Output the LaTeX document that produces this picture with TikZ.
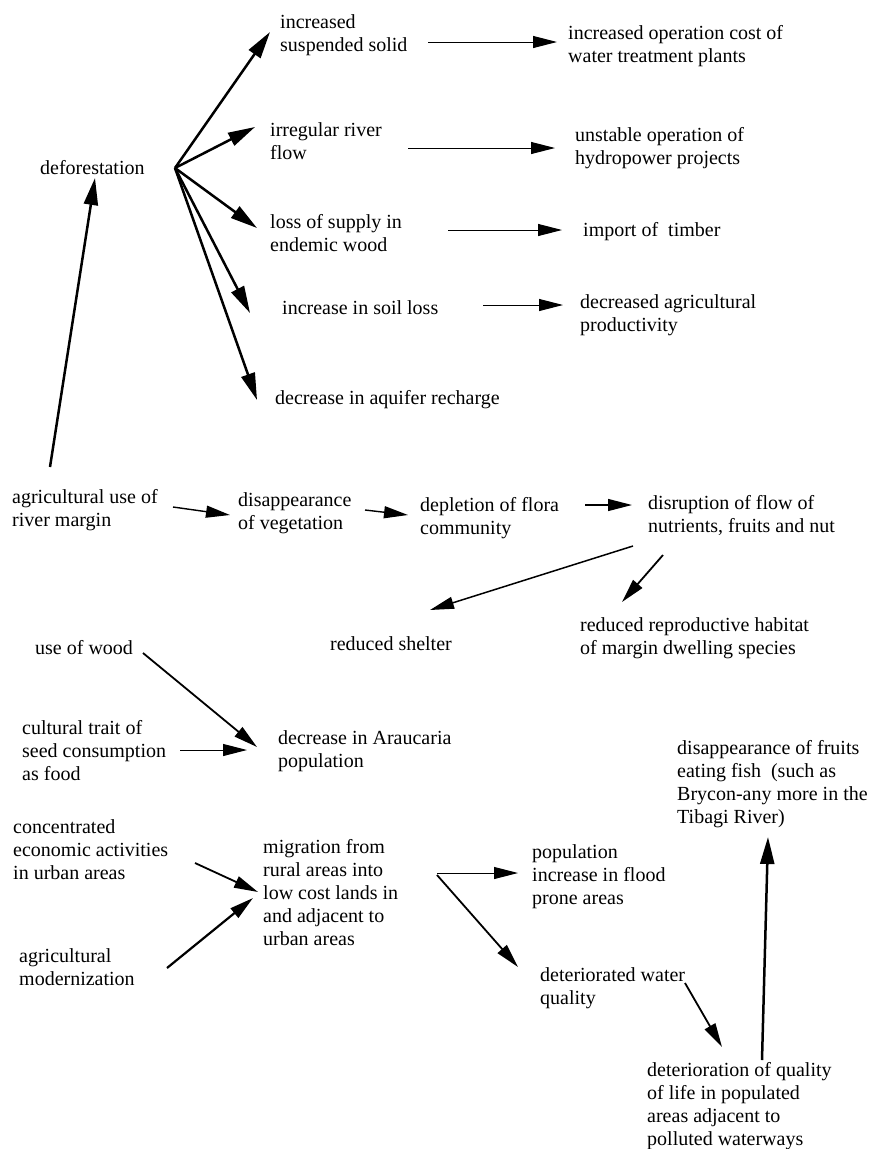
\documentclass[tikz,border=0pt]{standalone}
\usepackage{fontspec}
\setmainfont{Liberation Serif}
\usetikzlibrary{arrows.meta}
% multi-line label whose baseline is that of its first line
\newcommand\mlines[1]{\begin{tabular}[t]{@{}l@{}}#1\end{tabular}}
\begin{document}
\begin{tikzpicture}[x=1pt,y=-1pt,
  lbl/.style={anchor=base west,inner sep=0pt,font=\fontsize{20}{23}\selectfont},
  arr/.style={-{Triangle[length=24pt,width=12pt]},line width=1.8pt},
  thin arr/.style={arr,line width=1pt},
  thick arr/.style={-{Triangle[length=27pt,width=14pt]},line width=2.5pt}]
\useasboundingbox (0,0) rectangle (873,1149);
\fill[white] (0,0) rectangle (873,1149);

% deforestation and its consequences
\node[lbl] (defor) at (40,174) {deforestation};
\node[lbl] (iss) at (280,28) {\mlines{increased\\suspended solid}};
\node[lbl] (irf) at (270,136) {\mlines{irregular river\\flow}};
\node[lbl] (lsw) at (270,228) {\mlines{loss of supply in\\endemic wood}};
\node[lbl] (isl) at (282,314) {increase in soil loss};
\node[lbl] (dar) at (275,404) {decrease in aquifer recharge};
\node[lbl] (ioc) at (568,39) {\mlines{increased operation cost of\\water treatment plants}};
\node[lbl] (uop) at (575,141) {\mlines{unstable operation of\\hydropower projects}};
\node[lbl] (imt) at (583,236) {import of~~timber};
\node[lbl] (dap) at (580,308) {\mlines{decreased agricultural\\productivity}};

% river margin chain
\node[lbl] (aur) at (12,503) {\mlines{agricultural use of\\river margin}};
\node[lbl] (dveg) at (238,506) {\mlines{disappearance\\of vegetation}};
\node[lbl] (dflora) at (420,511) {\mlines{depletion of flora\\community}};
\node[lbl] (disr) at (648,509) {\mlines{disruption of flow of\\nutrients, fruits and nut}};
\node[lbl] (rshel) at (330,650) {reduced shelter};
\node[lbl] (rrh) at (580,631) {\mlines{reduced reproductive habitat\\of margin dwelling species}};

% Araucaria
\node[lbl] (uow) at (35,654) {use of wood};
\node[lbl] (ctr) at (22,734) {\mlines{cultural trait of\\seed consumption\\as food}};
\node[lbl] (dara) at (278,744) {\mlines{decrease in Araucaria\\population}};

% migration
\node[lbl] (cea) at (13,833) {\mlines{concentrated\\economic activities\\in urban areas}};
\node[lbl] (amod) at (19,962) {\mlines{agricultural\\modernization}};
\node[lbl] (mig) at (263,853) {\mlines{migration from\\rural areas into\\low cost lands in\\and adjacent to\\urban areas}};
\node[lbl] (pif) at (532,858) {\mlines{population\\increase in flood\\prone areas}};
\node[lbl] (dwq) at (540,981) {\mlines{deteriorated water\\quality}};
\node[lbl] (dql) at (647,1076) {\mlines{deterioration of quality\\of life in populated\\areas adjacent to\\polluted waterways}};
\node[lbl] (dfe) at (677,754) {\mlines{disappearance of fruits\\eating fish~~(such as\\Brycon-any more in the\\Tibagi River)}};

% fan out of deforestation
\coordinate (dfout) at ([shift={(135,-6)}]defor.base west);
\draw[thick arr] ([shift={(38,-36)}]aur.base west) -- ([shift={(55,4)}]defor.base west);
\draw[thick arr] (dfout) -- ([shift={(-10,4)}]iss.base west);
\draw[thick arr] (dfout) -- ([shift={(-15,-9)}]irf.base west);
\draw[thick arr] (dfout) -- ([shift={(-13,0)}]lsw.base west);
\draw[thick arr] (dfout) -- ([shift={(-32,-1)}]isl.base west);
\draw[thick arr] (dfout) -- ([shift={(-18,-4)}]dar.base west);

\draw[thin arr] ([shift={(148,14)}]iss.base west) -- ([shift={(-11,3)}]ioc.base west);
\draw[thin arr] ([shift={(138,12)}]irf.base west) -- ([shift={(-20,7)}]uop.base west);
\draw[thin arr] ([shift={(178,2)}]lsw.base west) -- ([shift={(-21,-6)}]imt.base west);
\draw[thin arr] ([shift={(201,-9)}]isl.base west) -- ([shift={(-17,-3)}]dap.base west);

% chain along the river margin
\draw[arr,line width=1.4pt] ([shift={(161,4)}]aur.base west) -- ([shift={(-8,9)}]dveg.base west);
\draw[arr,line width=1.4pt] ([shift={(127,4)}]dveg.base west) -- ([shift={(-12,4)}]dflora.base west);
\draw[arr,line width=1.2pt] ([shift={(165,-6)}]dflora.base west) -- ([shift={(-16,-4)}]disr.base west);
\draw[arr,line width=1.5pt] ([shift={(-15,37)}]disr.base west) -- ([shift={(100,-40)}]rshel.base west);
\draw[arr] ([shift={(15,46)}]disr.base west) -- ([shift={(42,-29)}]rrh.base west);

% Araucaria causes
\draw[arr] ([shift={(108,-1)}]uow.base west) -- ([shift={(-21,3)}]dara.base west);
\draw[thin arr] ([shift={(158,16)}]ctr.base west) -- ([shift={(-31,6)}]dara.base west);

% migration and its effects
\draw[arr] ([shift={(182,30)}]cea.base west) -- ([shift={(-5,39)}]mig.base west);
\draw[arr,line width=2.2pt] ([shift={(148,6)}]amod.base west) -- ([shift={(-10,45)}]mig.base west);
\draw[thin arr] ([shift={(174,20)}]mig.base west) -- ([shift={(-14,15)}]pif.base west);
\draw[arr] ([shift={(174,22)}]mig.base west) -- ([shift={(-22,-14)}]dwq.base west);
\draw[arr] ([shift={(145,2)}]dwq.base west) -- ([shift={(75,-29)}]dql.base west);
\draw[thick arr] ([shift={(115,-16)}]dql.base west) -- ([shift={(91,83)}]dfe.base west);
\end{tikzpicture}
\end{document}
